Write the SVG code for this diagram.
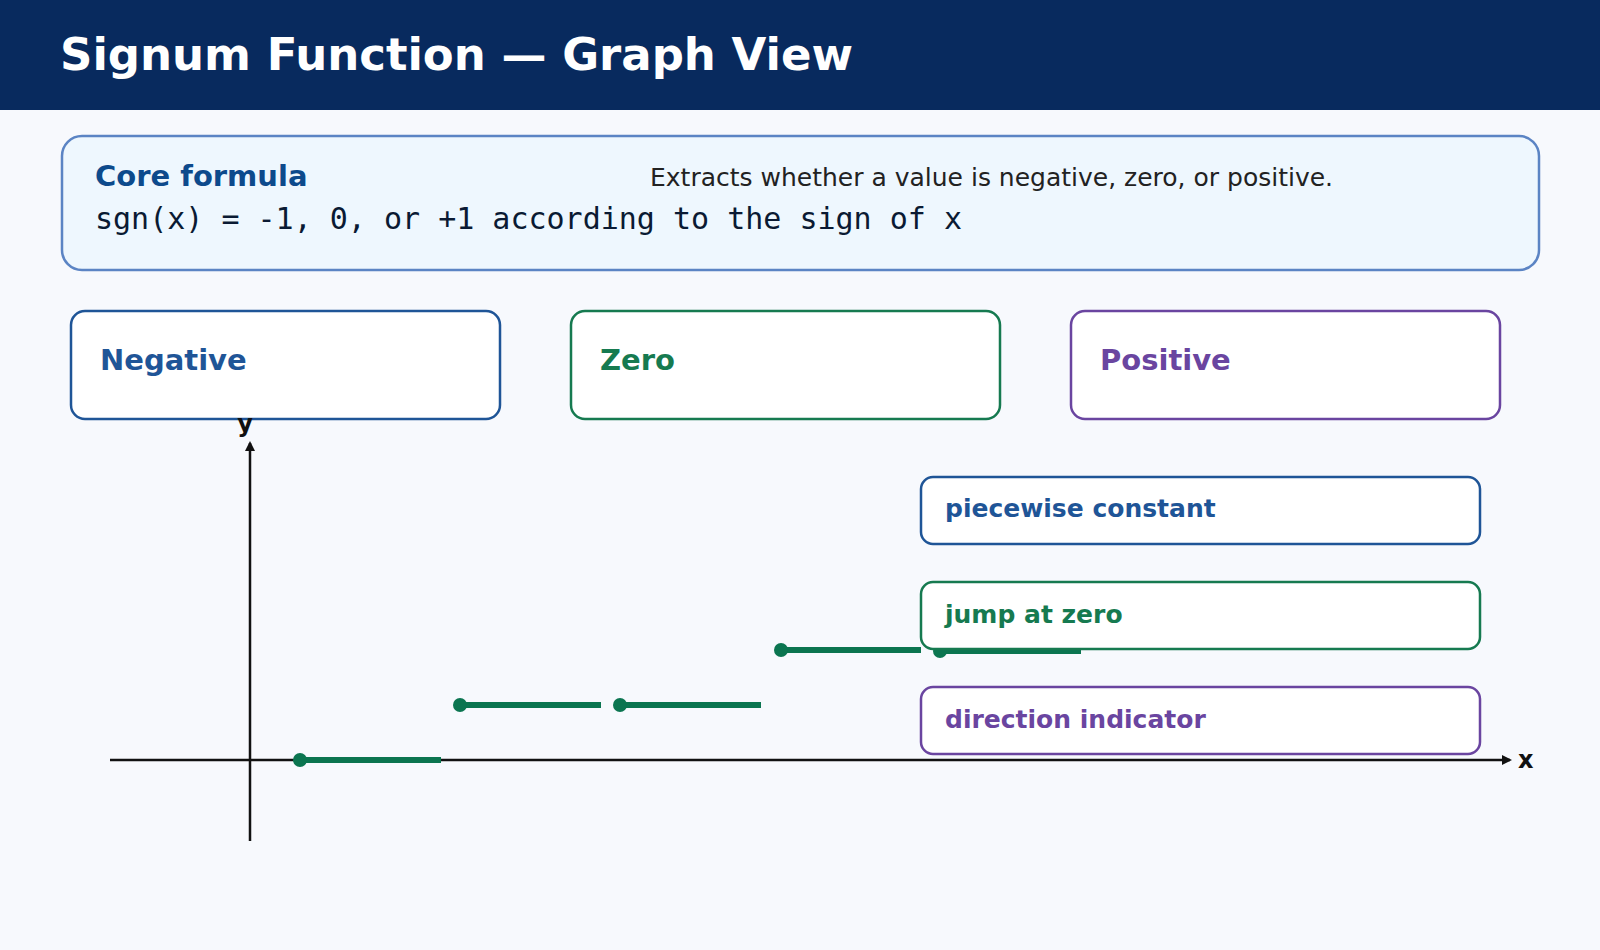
<svg xmlns="http://www.w3.org/2000/svg" width="1600" height="950" viewBox="0 0 1600 950">
<defs>
<style>
text{font-family:"DejaVu Sans","Noto Sans",sans-serif}
.b{font-weight:bold}
.card{fill:#fff;stroke-width:2.5}
.seg{stroke:#0b7550;stroke-width:6}
.dot{fill:#0b7550}
.ax{stroke:#111;stroke-width:2.5;fill:none}
</style>
<marker id="ah" markerWidth="10" markerHeight="10" refX="8" refY="5" orient="auto" markerUnits="userSpaceOnUse"><path d="M0,0 L10,5 L0,10 z" fill="#111"/></marker>
</defs>
<rect width="1600" height="950" fill="#f7f9fd"/>
<rect width="1600" height="110" fill="#082a5e"/>
<text x="60" y="70" class="b" font-size="45" fill="#fff">Signum Function — Graph View</text>
<g id="formula">
<rect x="62" y="136" width="1477" height="134" rx="20" fill="#eef7fe" stroke="#5b84c4" stroke-width="2.5"/>
<text x="95" y="186" class="b" font-size="29" fill="#0d4a8c">Core formula</text>
<text x="650" y="186" font-size="25" fill="#222">Extracts whether a value is negative, zero, or positive.</text>
<text x="95" y="229" font-size="30" fill="#0a1a33" style="font-family:'DejaVu Sans Mono','Liberation Mono',monospace">sgn(x) = -1, 0, or +1 according to the sign of x</text>
</g>
<g id="negative"><rect class="card" x="71" y="311" width="429" height="108" rx="14" stroke="#1f5597"/><text x="100" y="370" class="b" font-size="29" fill="#1f5597">Negative</text></g>
<g id="zero"><rect class="card" x="571" y="311" width="429" height="108" rx="14" stroke="#167a50"/><text x="600" y="370" class="b" font-size="29" fill="#167a50">Zero</text></g>
<g id="positive"><rect class="card" x="1071" y="311" width="429" height="108" rx="14" stroke="#6a45a0"/><text x="1100" y="370" class="b" font-size="29" fill="#6a45a0">Positive</text></g>
<g id="connectors">
<line class="ax" x1="250" y1="841" x2="250" y2="443" marker-end="url(#ah)"/>
<line class="ax" x1="110" y1="760" x2="1510" y2="760" marker-end="url(#ah)"/>
<text x="245" y="432" class="b" font-size="24" fill="#111" text-anchor="middle">y</text>
<text x="1518" y="768" class="b" font-size="24" fill="#111">x</text>
<line class="seg" x1="300" y1="760" x2="441" y2="760"/><circle class="dot" cx="300" cy="760" r="7"/>
<line class="seg" x1="460" y1="705" x2="601" y2="705"/><circle class="dot" cx="460" cy="705" r="7"/>
<line class="seg" x1="620" y1="705" x2="761" y2="705"/><circle class="dot" cx="620" cy="705" r="7"/>
<line class="seg" x1="781" y1="650" x2="921" y2="650"/><circle class="dot" cx="781" cy="650" r="7"/>
<line class="seg" x1="940" y1="651" x2="1081" y2="651"/><circle class="dot" cx="940" cy="651" r="7"/>
</g>
<g id="piecewise"><rect class="card" x="921" y="477" width="559" height="67" rx="12" stroke="#1f5597"/><text x="945" y="517" class="b" font-size="25" fill="#1f5597">piecewise constant</text></g>
<g id="jump"><rect class="card" x="921" y="582" width="559" height="67" rx="12" stroke="#167a50"/><text x="945" y="623" class="b" font-size="25" fill="#167a50">jump at zero</text></g>
<g id="direction"><rect class="card" x="921" y="687" width="559" height="67" rx="12" stroke="#6a45a0"/><text x="945" y="728" class="b" font-size="25" fill="#6a45a0">direction indicator</text></g>
</svg>
